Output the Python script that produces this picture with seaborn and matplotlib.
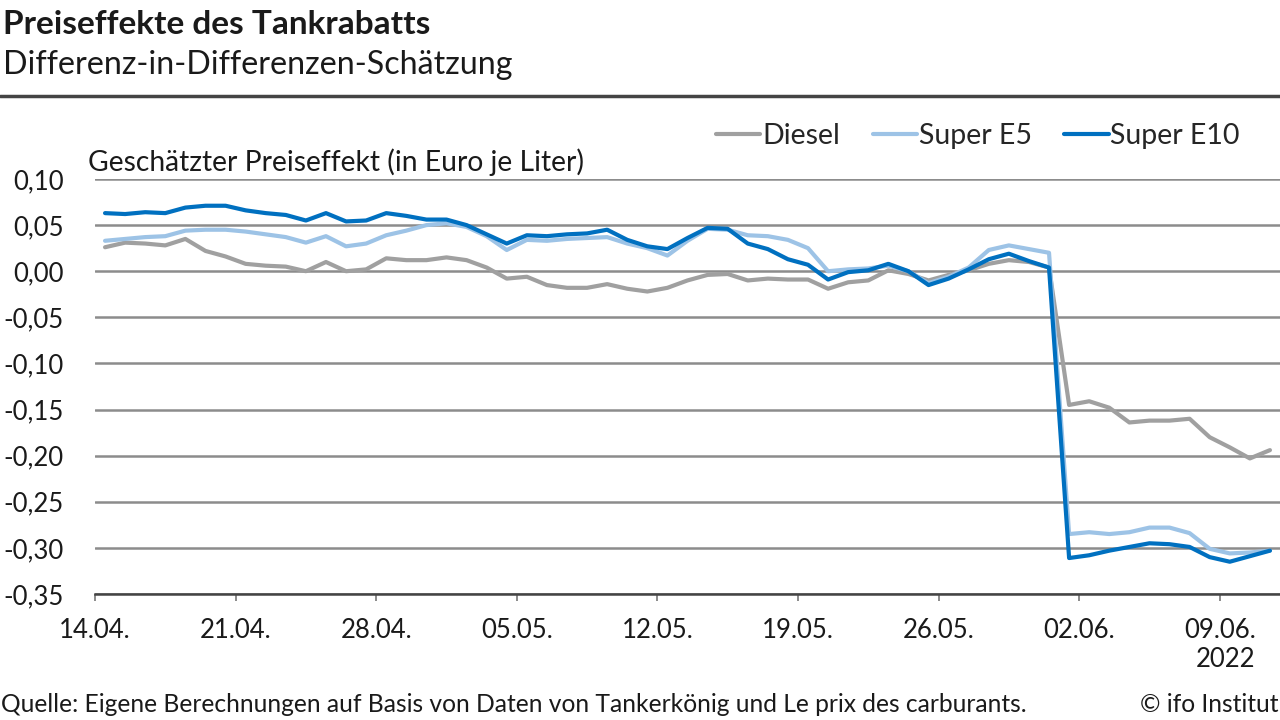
import numpy as np
import pandas as pd
import matplotlib
matplotlib.use("Agg")
import matplotlib.pyplot as plt
import matplotlib.dates as mdates
from matplotlib.lines import Line2D
from matplotlib.ticker import FuncFormatter
import seaborn as sns

sns.set_theme(style="white")
plt.rcParams["font.family"] = ["Lato", "DejaVu Sans"]

# Daily estimates, 14.04.2022 - 11.06.2022 (Euro per litre)
start_day = "2022-04-14"
super_e10 = [0.063, 0.062, 0.064, 0.063, 0.069, 0.071, 0.071, 0.066, 0.063, 0.061,
             0.055, 0.063, 0.054, 0.055, 0.063, 0.060, 0.056, 0.056, 0.050, 0.040,
             0.030, 0.039, 0.038, 0.040, 0.041, 0.045, 0.034, 0.027, 0.024, 0.036,
             0.047, 0.046, 0.030, 0.024, 0.013, 0.007, -0.009, -0.001, 0.001,
             0.008, 0.000, -0.015, -0.008, 0.002, 0.013, 0.019, 0.011, 0.004,
             -0.311, -0.308, -0.303, -0.299, -0.295, -0.296, -0.299, -0.310, -0.315, -0.309, -0.303]
super_e5 = [0.033, 0.035, 0.037, 0.038, 0.044, 0.045, 0.045, 0.043, 0.040, 0.037,
            0.031, 0.038, 0.027, 0.030, 0.039, 0.044, 0.050, 0.052, 0.048, 0.038,
            0.023, 0.034, 0.033, 0.035, 0.036, 0.037, 0.030, 0.025, 0.017, 0.033,
            0.046, 0.045, 0.039, 0.038, 0.034, 0.025, 0.000, 0.002, 0.003,
            0.006, 0.000, -0.013, -0.006, 0.004, 0.023, 0.028, 0.024, 0.020,
            -0.285, -0.283, -0.285, -0.283, -0.278, -0.278, -0.284, -0.301, -0.306, -0.305, -0.303]
diesel = [0.026, 0.031, 0.030, 0.028, 0.035, 0.022, 0.016, 0.008, 0.006, 0.005,
          0.000, 0.010, 0.000, 0.002, 0.014, 0.012, 0.012, 0.015, 0.012, 0.004,
          -0.008, -0.006, -0.015, -0.018, -0.018, -0.014, -0.019, -0.022, -0.018, -0.010,
          -0.004, -0.003, -0.010, -0.008, -0.009, -0.009, -0.019, -0.012, -0.010,
          0.001, -0.003, -0.010, -0.004, 0.001, 0.008, 0.012, 0.010, 0.004,
          -0.145, -0.141, -0.148, -0.164, -0.162, -0.162, -0.160, -0.180, -0.191, -0.203, -0.194]

series_names = ["Diesel", "Super E5", "Super E10"]
tick_labels = ["14.04.", "21.04.", "28.04.", "05.05.", "12.05.", "19.05.", "26.05.", "02.06.", "09.06.\n2022"]
y_ticks = [0.10, 0.05, 0.00, -0.05, -0.10, -0.15, -0.20, -0.25, -0.30, -0.35]

colors = {"Diesel": "#a0a0a0", "Super E5": "#9dc3e6", "Super E10": "#0070c0"}

# points sit in the middle of each day
days = pd.date_range(start_day + " 12:00", periods=len(diesel), freq="D")
df = pd.concat([
    pd.DataFrame({"Datum": days, "Wert": vals, "Sorte": name})
    for name, vals in zip(series_names, [diesel, super_e5, super_e10])
])

fig = plt.figure(figsize=(12.8, 7.2), dpi=100)
ax = fig.add_axes([95 / 1280, 1 - 594 / 720, 1 - 95 / 1280, (594 - 179) / 720])

sns.lineplot(data=df, x="Datum", y="Wert", hue="Sorte", hue_order=series_names,
             palette=colors, linewidth=3.0, ax=ax, legend=False, zorder=3)

ax.set_ylim(-0.35, 0.10)
ax.set_yticks(y_ticks)
ax.yaxis.set_major_formatter(FuncFormatter(lambda v, p: f"{v:.2f}".replace(".", ",").replace("-0,00", "0,00")))
ax.grid(axis="y", color="#8c8c8c", linewidth=1.8)
ax.grid(axis="x", visible=False)

tick_days = pd.date_range(start_day, periods=len(tick_labels), freq="7D")
ax.set_xticks(tick_days, tick_labels, multialignment="right")
ax.set_xlim(pd.Timestamp(start_day), pd.Timestamp("2022-06-12"))
ax.set_xlabel("")
ax.set_ylabel("")

for side in ["top", "right", "left"]:
    ax.spines[side].set_visible(False)
ax.spines["bottom"].set_color("#444444")
ax.spines["bottom"].set_linewidth(1.8)
ax.spines["bottom"].set_zorder(4)

ax.tick_params(axis="x", bottom=True, direction="out", length=5, width=1.2,
               color="#777777", labelsize=18.5, pad=12, labelcolor="#1a1a1a")
ax.tick_params(axis="y", left=False, labelsize=18.5, pad=16.5, labelcolor="#1a1a1a")

# legend
handles = [Line2D([0], [0], color=colors[n], linewidth=3.0) for n in series_names]
fig.legend(handles, series_names, loc="center right", bbox_to_anchor=(1240 / 1280, 1 - 136 / 720),
           ncol=3, frameon=False, fontsize=20.5, handlelength=1.55, handletextpad=0.07,
           columnspacing=1.15, borderaxespad=0, borderpad=0)

# titles
fig.text(0.002, 1 - 25 / 720, "Preiseffekte des Tankrabatts", fontsize=24, fontweight="bold",
         va="center", ha="left", color="#1a1a1a")
fig.text(0.002, 1 - 65 / 720, "Differenz-in-Differenzen-Schätzung", fontsize=23.2,
         va="center", ha="left", color="#1a1a1a")
fig.add_artist(Line2D([0, 1], [1 - 96 / 720] * 2, color="#444444", linewidth=2.5))
fig.text(88 / 1280, 1 - 162 / 720, "Geschätzter Preiseffekt (in Euro je Liter)", fontsize=20.3,
         va="center", ha="left", color="#1a1a1a")

# footer
fig.text(0.001, 1 - 705 / 720, "Quelle: Eigene Berechnungen auf Basis von Daten von Tankerkönig und Le prix des carburants.",
         fontsize=17.7, va="center", ha="left", color="#1a1a1a")
fig.text(0.999, 1 - 705 / 720, "© ifo Institut", fontsize=17.7, va="center", ha="right", color="#1a1a1a")

fig.savefig("out.png", dpi=100)
